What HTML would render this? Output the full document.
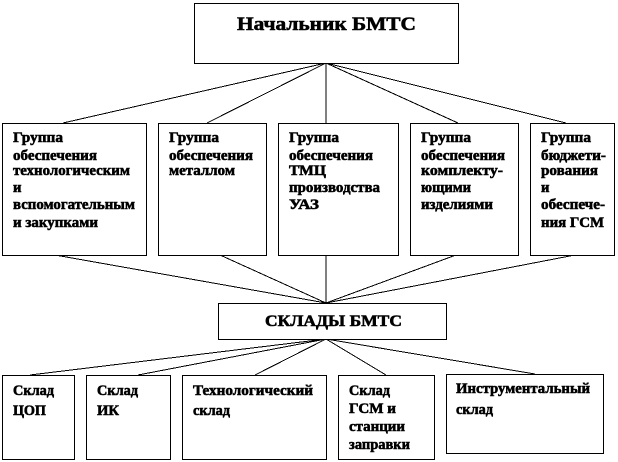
<!DOCTYPE html>
<html><head><meta charset="utf-8"><style>
html,body{margin:0;padding:0;background:#fff}
svg{display:block}
text{font-family:"Liberation Serif",serif;font-weight:bold;font-size:14.7px;fill:#000;stroke:#000;stroke-width:.55}
rect{fill:#fff;stroke:#000;stroke-width:1}
line{stroke:#000;stroke-width:1}
</style></head><body>
<svg width="618" height="462" viewBox="0 0 618 462" xmlns="http://www.w3.org/2000/svg" shape-rendering="crispEdges">
<line x1="326" y1="63" x2="63" y2="123"/>
<line x1="326" y1="63" x2="207" y2="123"/>
<line x1="326" y1="63" x2="326" y2="123"/>
<line x1="326" y1="63" x2="458" y2="123"/>
<line x1="326" y1="63" x2="566" y2="123"/>
<line x1="326" y1="303" x2="55" y2="255"/>
<line x1="326" y1="303" x2="220" y2="255"/>
<line x1="326" y1="303" x2="326" y2="255"/>
<line x1="326" y1="303" x2="456" y2="255"/>
<line x1="326" y1="303" x2="575" y2="255"/>
<line x1="326" y1="339" x2="30" y2="375"/>
<line x1="326" y1="339" x2="138" y2="375"/>
<line x1="326" y1="339" x2="255" y2="375"/>
<line x1="326" y1="339" x2="386" y2="375"/>
<line x1="326" y1="339" x2="535" y2="374"/>
<rect x="194.5" y="3.5" width="264" height="60"/>
<rect x="2.5" y="123.5" width="144" height="132"/>
<rect x="158.5" y="123.5" width="108" height="132"/>
<rect x="278.5" y="123.5" width="120" height="132"/>
<rect x="410.5" y="123.5" width="108" height="132"/>
<rect x="530.5" y="123.5" width="84" height="132"/>
<rect x="218.5" y="303.5" width="228" height="36"/>
<rect x="2.5" y="375.5" width="72" height="84"/>
<rect x="86.5" y="375.5" width="84" height="84"/>
<rect x="182.5" y="375.5" width="144" height="84"/>
<rect x="338.5" y="375.5" width="96" height="84"/>
<rect x="446.5" y="374.5" width="157" height="79"/>
<text x="237" y="30" style="font-size:18.7px" textLength="179" lengthAdjust="spacingAndGlyphs">Начальник БМТС</text>
<text x="13" y="142" textLength="50" lengthAdjust="spacingAndGlyphs">Группа</text>
<text x="13" y="160" textLength="84" lengthAdjust="spacingAndGlyphs">обеспечения</text>
<text x="13" y="175" textLength="117" lengthAdjust="spacingAndGlyphs">технологическим</text>
<text x="13" y="192">и</text>
<text x="13" y="209" textLength="122" lengthAdjust="spacingAndGlyphs">вспомогательным</text>
<text x="13" y="227" textLength="85" lengthAdjust="spacingAndGlyphs">и закупками</text>
<text x="169" y="142" textLength="50" lengthAdjust="spacingAndGlyphs">Группа</text>
<text x="169" y="160" textLength="84" lengthAdjust="spacingAndGlyphs">обеспечения</text>
<text x="169" y="175" textLength="66" lengthAdjust="spacingAndGlyphs">металлом</text>
<text x="289" y="142" textLength="50" lengthAdjust="spacingAndGlyphs">Группа</text>
<text x="289" y="160" textLength="84" lengthAdjust="spacingAndGlyphs">обеспечения</text>
<text x="289" y="175" textLength="37" lengthAdjust="spacingAndGlyphs">ТМЦ</text>
<text x="289" y="192" textLength="91" lengthAdjust="spacingAndGlyphs">производства</text>
<text x="289" y="209" textLength="30" lengthAdjust="spacingAndGlyphs">УАЗ</text>
<text x="421" y="142" textLength="50" lengthAdjust="spacingAndGlyphs">Группа</text>
<text x="421" y="160" textLength="84" lengthAdjust="spacingAndGlyphs">обеспечения</text>
<text x="421" y="175" textLength="82" lengthAdjust="spacingAndGlyphs">комплекту-</text>
<text x="421" y="192" textLength="50" lengthAdjust="spacingAndGlyphs">ющими</text>
<text x="421" y="209" textLength="72" lengthAdjust="spacingAndGlyphs">изделиями</text>
<text x="541" y="142" textLength="50" lengthAdjust="spacingAndGlyphs">Группа</text>
<text x="541" y="160" textLength="65" lengthAdjust="spacingAndGlyphs">бюджети-</text>
<text x="541" y="175" textLength="57" lengthAdjust="spacingAndGlyphs">рования</text>
<text x="541" y="192">и</text>
<text x="541" y="209" textLength="64" lengthAdjust="spacingAndGlyphs">обеспече-</text>
<text x="541" y="227" textLength="63" lengthAdjust="spacingAndGlyphs">ния ГСМ</text>
<text x="265" y="326" style="font-size:16px" textLength="137" lengthAdjust="spacingAndGlyphs">СКЛАДЫ БМТС</text>
<text x="13" y="395" textLength="41" lengthAdjust="spacingAndGlyphs">Склад</text>
<text x="13" y="415" textLength="33" lengthAdjust="spacingAndGlyphs">ЦОП</text>
<text x="97" y="395" textLength="41" lengthAdjust="spacingAndGlyphs">Склад</text>
<text x="97" y="415" textLength="22" lengthAdjust="spacingAndGlyphs">ИК</text>
<text x="193" y="395" textLength="120" lengthAdjust="spacingAndGlyphs">Технологический</text>
<text x="193" y="415" textLength="37" lengthAdjust="spacingAndGlyphs">склад</text>
<text x="349" y="395" textLength="41" lengthAdjust="spacingAndGlyphs">Склад</text>
<text x="349" y="413" textLength="47" lengthAdjust="spacingAndGlyphs">ГСМ и</text>
<text x="349" y="431" textLength="56" lengthAdjust="spacingAndGlyphs">станции</text>
<text x="349" y="449" textLength="61" lengthAdjust="spacingAndGlyphs">заправки</text>
<text x="456" y="393" textLength="134" lengthAdjust="spacingAndGlyphs">Инструментальный</text>
<text x="456" y="414" textLength="37" lengthAdjust="spacingAndGlyphs">склад</text>
</svg>
</body></html>
